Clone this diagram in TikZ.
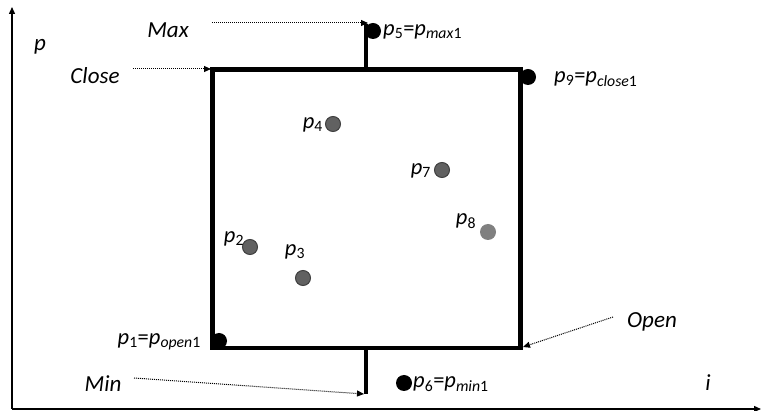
\documentclass[tikz,border=0pt]{standalone}
\usepackage{fontspec}
\setmainfont{Carlito}
\usetikzlibrary{arrows.meta}
\begin{document}
\begin{tikzpicture}[x=1pt,y=-1pt,
  lbl/.style={font=\fontsize{23}{26}\selectfont\itshape, inner sep=0pt},
  plbl/.style={font=\fontsize{22.5}{26}\selectfont, inner sep=0pt},
  axis/.style={line width=1.3pt, -{Triangle[length=7pt,width=6pt]}},
  boxline/.style={line width=4.5pt},
  note/.style={densely dotted, line width=1pt, -{Triangle[length=7pt,width=6pt]}},
  bigdot/.style={circle, fill=black, minimum size=16pt, inner sep=0pt},
  gdot/.style={circle, fill=black!62, draw=black!75, line width=1pt, minimum size=15pt, inner sep=0pt},
  ldot/.style={circle, fill=black!50, minimum size=16pt, inner sep=0pt}]
\useasboundingbox (0,0) rectangle (761,411);
% axes
\coordinate (O) at (12,409);
\coordinate (Ytop) at (12,7);
\coordinate (Xend) at (761,409);
\draw[axis] (O) -- (Ytop);
\draw[axis] (O) -- (Xend);
% dots behind box
\node[bigdot] (d1) at (219,341) {};
\node[bigdot] (d5) at (373,31) {};
\node[bigdot] (d9) at (528,77) {};
\node[bigdot] (d6) at (404,383) {};
% box
\coordinate (bl) at (212.5,348);
\coordinate (tl) at (212.5,69.5);
\coordinate (tr) at (520.5,69.5);
\coordinate (br) at (520.5,348);
\draw[boxline] ([yshift=2.25pt]bl) -- (tl) -- (tr) -- (br) -- ([xshift=-2.25pt]bl);
\draw[boxline] ([xshift=2.25pt]bl) -- ([yshift=2.25pt]bl);
% wicks
\coordinate (wt) at (366,69.5);
\coordinate (wtt) at (366,24);
\coordinate (wb) at (366,348);
\coordinate (wbb) at (366,394);
\draw[boxline] (wt) -- (wtt);
\draw[boxline] (wb) -- (wbb);
% grey dots
\node[gdot] (d4) at (333,124) {};
\node[gdot] (d7) at (442,170) {};
\node[ldot] (d8) at (488,232) {};
\node[gdot] (d2) at (250,247) {};
\node[gdot] (d3) at (303,278) {};
% point labels
\node[plbl, anchor=west] (l5) at (383,32) {\textit{p}\textsubscript{5}=\textit{p}\textsubscript{\textit{max}1}};
\node[plbl, anchor=west] (l9) at (554,79) {\textit{p}\textsubscript{9}=\textit{p}\textsubscript{\textit{close}1}};
\node[plbl, anchor=east] (l1) at (201,342) {\textit{p}\textsubscript{1}=\textit{p}\textsubscript{\textit{open}1}};
\node[plbl, anchor=west] (l6) at (413,384) {\textit{p}\textsubscript{6}=\textit{p}\textsubscript{\textit{min}1}};
\node[plbl, anchor=east] (l4) at (323,125) {\textit{p}\textsubscript{4}};
\node[plbl, anchor=east] (l7) at (431,171) {\textit{p}\textsubscript{7}};
\node[plbl] (l8) at (466,221) {\textit{p}\textsubscript{8}};
\node[plbl] (l2) at (234,239) {\textit{p}\textsubscript{2}};
\node[plbl] (l3) at (295,252) {\textit{p}\textsubscript{3}};
% text labels
\node[lbl] (p) at (40,47) {p};
\node[lbl] (i) at (708,383) {i};
\node[lbl] (max) at (168,30) {Max};
\node[lbl] (close) at (95,76) {Close};
\node[lbl] (min) at (103,384) {Min};
\node[lbl] (open) at (652,322) {Open};
% annotation arrows
\coordinate (maxs) at (212,23);
\coordinate (maxe) at (368,23);
\coordinate (closes) at (133,69);
\coordinate (closee) at (211,69);
\coordinate (mins) at (134,378);
\coordinate (mine) at (364,394);
\coordinate (opens) at (613,317);
\coordinate (opene) at (523,347);
\draw[note] (maxs) -- (maxe);
\draw[note] (closes) -- (closee);
\draw[note] (mins) -- (mine);
\draw[note] (opens) -- (opene);
\end{tikzpicture}
\end{document}
